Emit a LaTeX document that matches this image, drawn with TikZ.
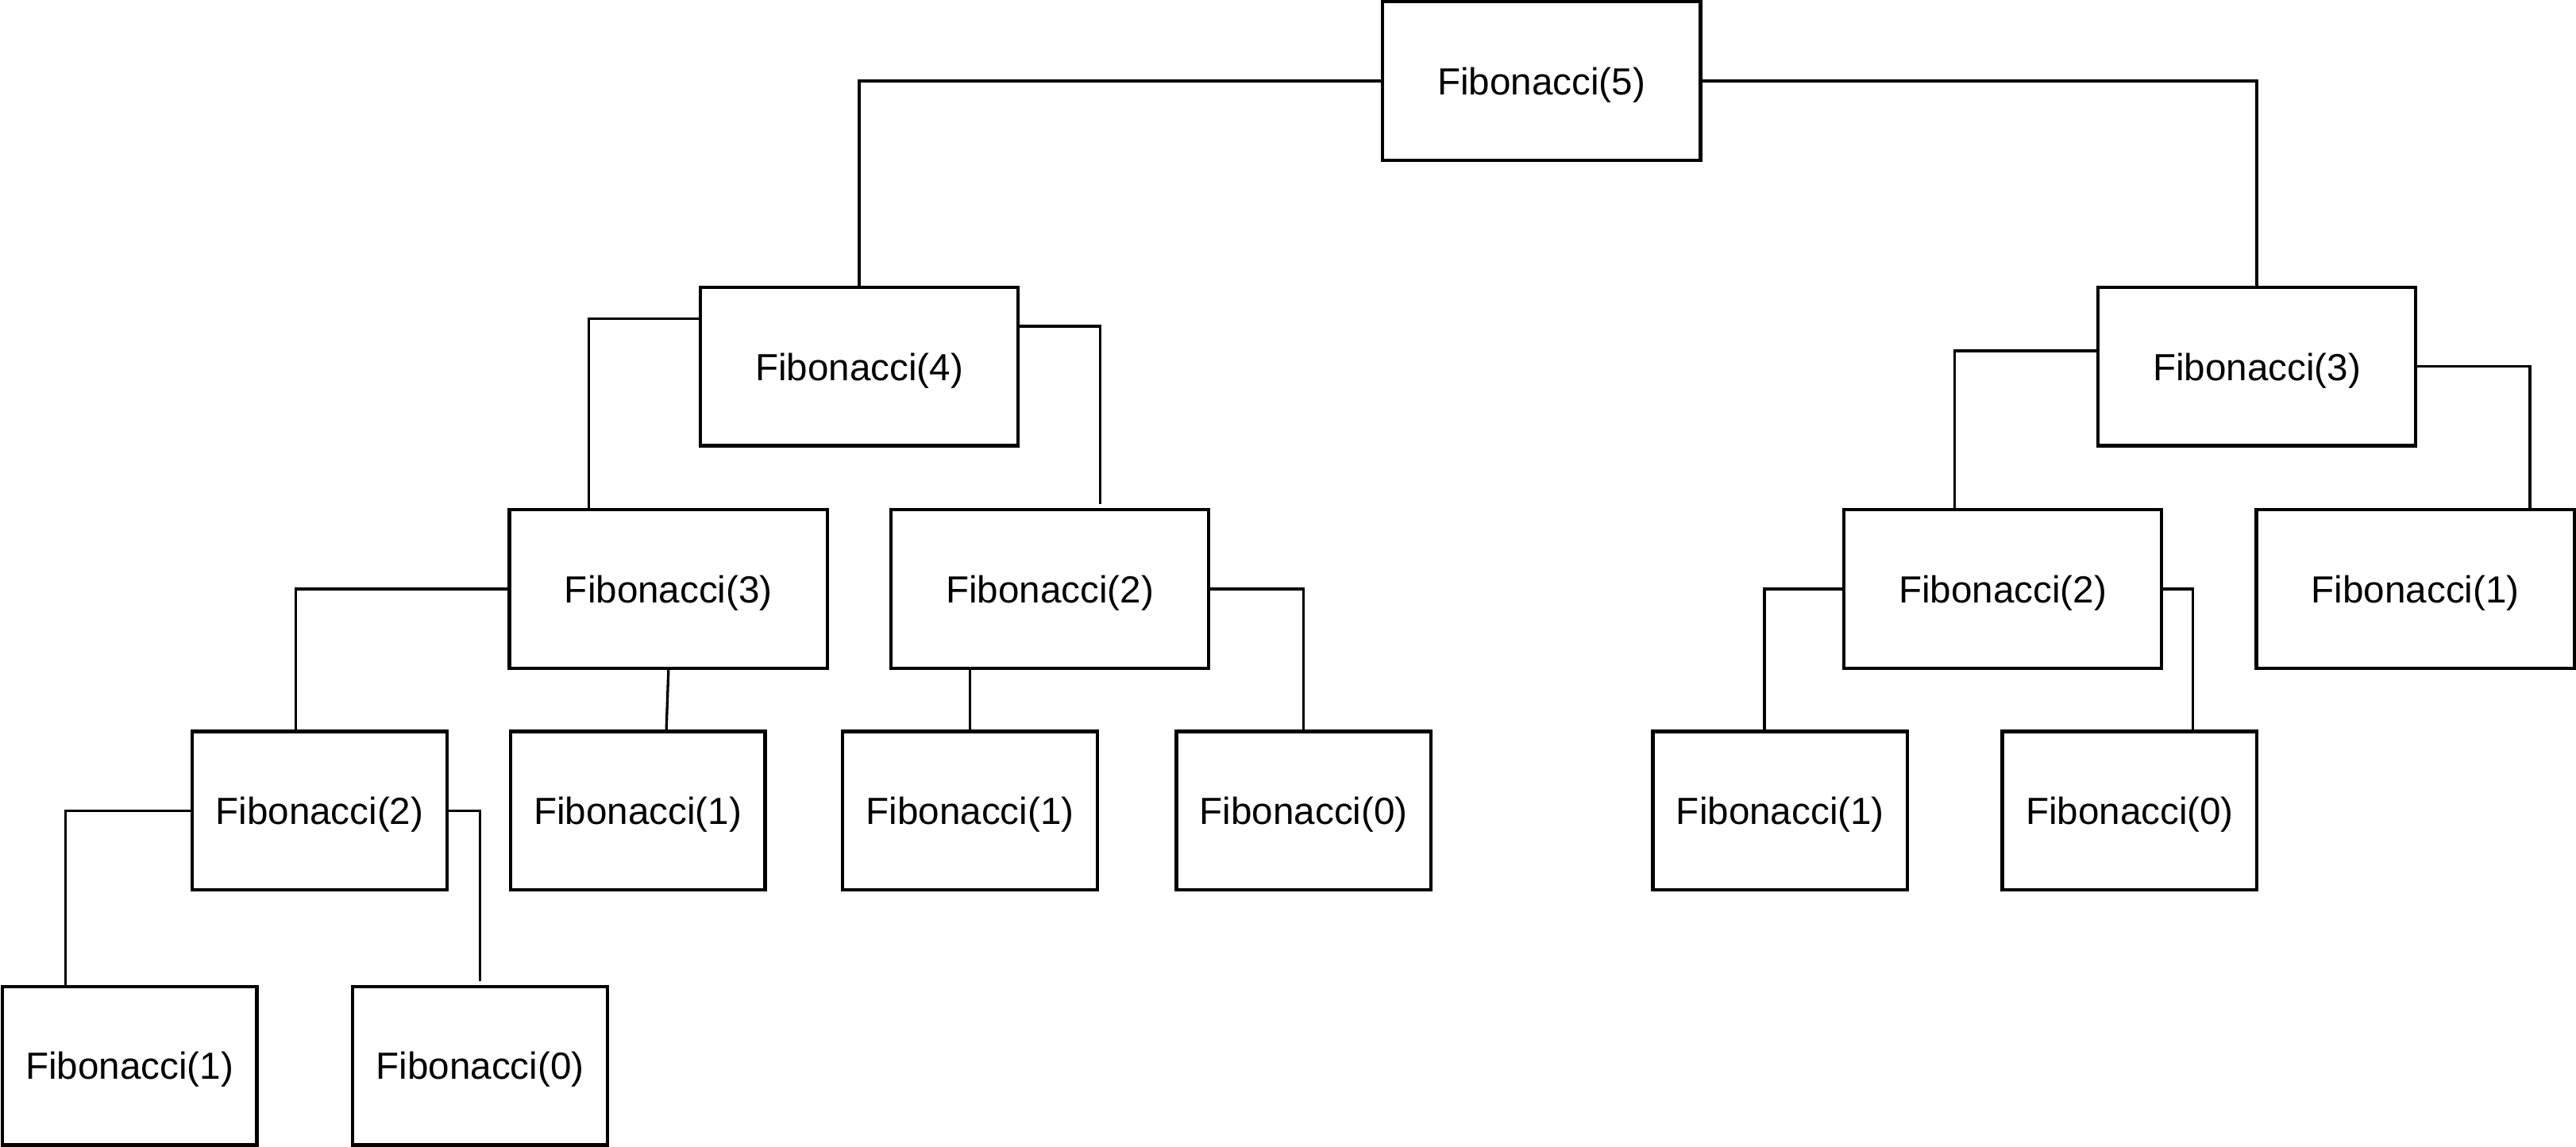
\documentclass[tikz,border=0pt]{standalone}
\usepackage{fontspec}
\setmainfont{Liberation Sans}
\begin{document}
\begin{tikzpicture}[x=1pt,y=-1pt,
  fbox/.style={draw=black,line width=2.1pt,fill=white,inner sep=0pt,
    minimum height=96.5pt,text depth=0pt,font=\fontsize{23}{28}\selectfont},
  wide/.style={fbox,minimum width=193.6pt},
  narrow/.style={fbox,minimum width=155pt},
  conn/.style={draw=black,line width=1.6pt}]
\useasboundingbox[fill=white] (0,0) rectangle (1568,698);
% level 0
\node[wide] (f5) at (938.3,49.3) {Fibonacci(5)};
% level 1
\node[wide] (f4) at (523,223.2) {Fibonacci(4)};
\node[wide] (f3r) at (1373.7,223.2) {Fibonacci(3)};
% level 2
\node[wide] (f3l) at (406.9,358.6) {Fibonacci(3)};
\node[wide] (f2m) at (639,358.6) {Fibonacci(2)};
\node[wide] (f2r) at (1219,358.6) {Fibonacci(2)};
\node[wide] (f1r) at (1470.2,358.6) {Fibonacci(1)};
% level 3
\node[narrow] (f2l) at (194.5,493.7) {Fibonacci(2)};
\node[narrow] (f1a) at (388.2,493.7) {Fibonacci(1)};
\node[narrow] (f1b) at (590.4,493.7) {Fibonacci(1)};
\node[narrow] (f0a) at (793.5,493.7) {Fibonacci(0)};
\node[narrow] (f1c) at (1083.6,493.7) {Fibonacci(1)};
\node[narrow] (f0b) at (1296.3,493.7) {Fibonacci(0)};
% level 4
\node[narrow] (f1d) at (78.8,649) {Fibonacci(1)};
\node[narrow] (f0c) at (292.2,649) {Fibonacci(0)};
% connectors
\draw[conn] (f5.west) -| (f4.north);
\draw[conn] (f5.east) -| (f3r.north);
\draw[conn] ([yshift=29.1pt]f4.west) -| ([xshift=-48.5pt]f3l.north);
\draw[conn] ([yshift=24.5pt]f4.east) -| ([xshift=30.8pt,yshift=2.5pt]f2m.north);
\draw[conn] (f3l.west) -| ([xshift=-14.5pt]f2l.north);
\draw[conn] (f3l.south) -- ([xshift=17.4pt]f1a.north);
\draw[conn] (f2m.south -| f1b.north) -- (f1b.north);
\draw[conn] (f2m.east) -| (f0a.north);
\draw[conn] ([yshift=9.6pt]f3r.west) -| ([xshift=-29.4pt]f2r.north);
\draw[conn] (f3r.east) -| ([xshift=69.8pt]f1r.north);
\draw[conn] (f2r.west) -| ([xshift=-9.6pt]f1c.north);
\draw[conn] (f2r.east) -| ([xshift=38.3pt]f0b.north);
\draw[conn] (f2l.west) -| ([xshift=-39pt]f1d.north);
\draw[conn] (f2l.east) -| ([yshift=2.2pt]f0c.north);
\end{tikzpicture}
\end{document}
